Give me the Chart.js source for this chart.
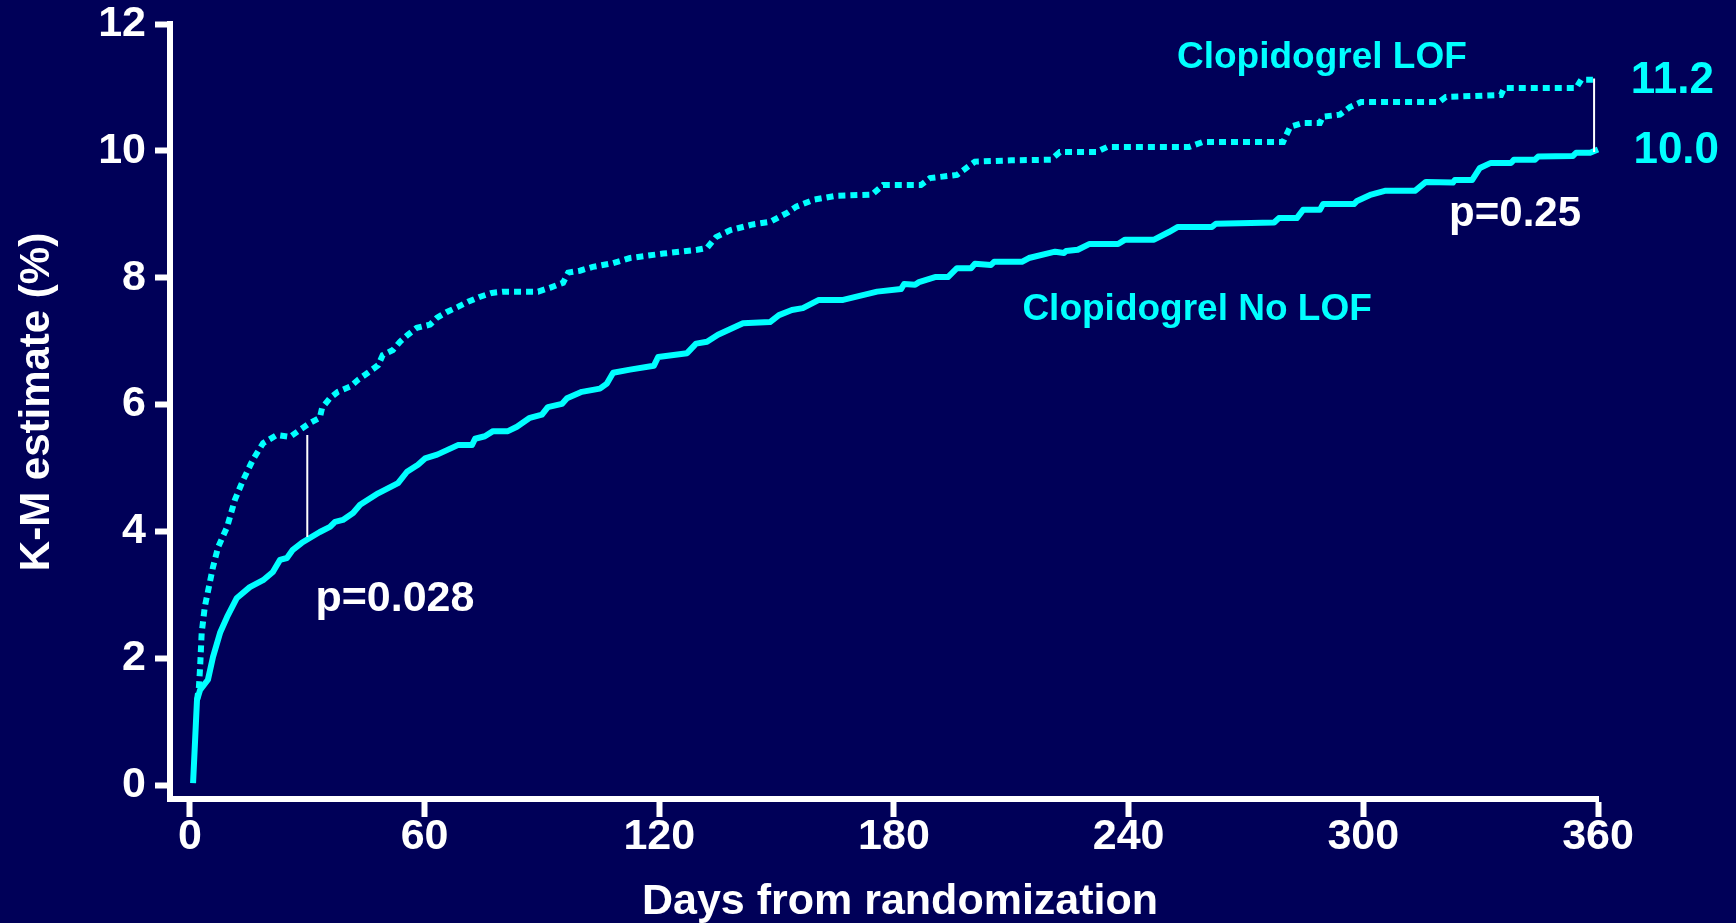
<!DOCTYPE html>
<html>
<head>
<meta charset="utf-8">
<script src="https://cdn.jsdelivr.net/npm/chart.js@4/dist/chart.umd.min.js"></script>
<style>
  html, body { margin: 0; padding: 0; background: #000058; }
  #wrap { width: 1736px; height: 923px; }
</style>
</head>
<body>
<div id="wrap"><canvas id="kmChart"></canvas></div>
<script>
// Clopidogrel No LOF (solid)
const noLofDays = [0.8, 1.8, 2.6, 4.6, 5.9, 7.7, 9.5, 12, 15.3, 18.7, 21.2, 23, 24.8, 26.3, 28.6, 30.2, 33.2, 35.8, 37.1, 39.1,
  41.7, 43.5, 48.1, 53.2, 55.5, 58.3, 60.1, 63.2, 68.5, 72.1, 72.9, 75.4, 77.5, 81.3, 83.6, 86.9, 90, 91.5, 95.1, 96.4,
  100.2, 104.8, 106.6, 108.2, 112.5, 118.6, 119.7, 127.1, 129.4, 132.2, 135, 141.4, 148.3, 150.6, 153.9, 156.7, 160.8, 167, 175.7, 181.8,
  182.6, 185.4, 186.4, 190.5, 193.8, 196.1, 199.7, 200.7, 204.8, 205.6, 212.7, 214.5, 221.2, 223.5, 224, 227, 229.9, 237.3, 239.1, 246.5,
  250.3, 252.6, 261.3, 262.3, 277.2, 278.4, 283, 284.6, 288.9, 289.7, 297.6, 298.4, 302, 305.5, 313.2, 316, 322.9, 323.4, 327.8, 329.8,
  332.6, 337.8, 338.5, 343.9, 344.7, 353.6, 354.4, 358, 360];
const noLofValues = [0.03, 1.34, 1.50, 1.66, 2.02, 2.40, 2.65, 2.95, 3.12, 3.23, 3.36, 3.55, 3.58, 3.71, 3.82, 3.88, 3.99, 4.07, 4.15, 4.18,
  4.29, 4.42, 4.60, 4.76, 4.94, 5.05, 5.15, 5.21, 5.36, 5.36, 5.46, 5.50, 5.58, 5.58, 5.65, 5.79, 5.84, 5.96, 6.01, 6.10,
  6.20, 6.25, 6.33, 6.50, 6.55, 6.61, 6.75, 6.81, 6.96, 6.99, 7.10, 7.28, 7.30, 7.41, 7.49, 7.52, 7.65, 7.65, 7.78, 7.82,
  7.90, 7.89, 7.93, 8.01, 8.01, 8.15, 8.15, 8.22, 8.20, 8.25, 8.25, 8.31, 8.41, 8.39, 8.42, 8.44, 8.53, 8.53, 8.60, 8.60,
  8.72, 8.80, 8.80, 8.85, 8.87, 8.94, 8.94, 9.07, 9.07, 9.16, 9.16, 9.21, 9.31, 9.37, 9.37, 9.51, 9.50, 9.54, 9.54, 9.73,
  9.81, 9.81, 9.86, 9.86, 9.91, 9.92, 9.97, 9.97, 10.02];

// Clopidogrel LOF (dotted)
const lofDays = [1.8, 2.3, 2.6, 3.0, 3.8, 5.9, 7.2, 9.5, 11.5, 13.6, 16.1, 18.7, 22.2, 25.6, 28.1, 30.7, 33.2, 33.8, 35.8, 37.8,
  40.9, 43, 45.5, 48.1, 49.3, 51.9, 53.7, 55.7, 58, 61.4, 63.2, 65.7, 68.5, 71.1, 74.2, 77.2, 80, 89, 92, 95.4,
  96.7, 99.7, 103, 108.2, 112.5, 121, 129.7, 132.2, 134.5, 138.2, 143.9, 148.3, 152.9, 155, 159.5, 165, 174.4, 177.2, 186.9, 189.2,
  196.1, 200.7, 210, 220.1, 222.4, 231.7, 234.5, 255.4, 259, 279.5, 281.3, 284.6, 288.9, 289.7, 294, 296.6, 299.4, 319.4, 321.1, 335.2,
  336, 354.4, 355.7, 358.7];
const lofValues = [1.34, 1.55, 1.86, 2.40, 2.81, 3.44, 3.75, 4.07, 4.50, 4.81, 5.13, 5.39, 5.52, 5.49, 5.60, 5.71, 5.79, 5.95, 6.10, 6.20,
  6.28, 6.39, 6.50, 6.62, 6.78, 6.86, 6.99, 7.10, 7.21, 7.26, 7.37, 7.46, 7.54, 7.62, 7.70, 7.76, 7.78, 7.78, 7.84, 7.92,
  8.08, 8.11, 8.17, 8.23, 8.31, 8.38, 8.44, 8.47, 8.64, 8.75, 8.84, 8.88, 9.03, 9.12, 9.23, 9.29, 9.31, 9.46, 9.46, 9.57,
  9.62, 9.83, 9.85, 9.86, 9.98, 9.98, 10.06, 10.06, 10.14, 10.14, 10.38, 10.44, 10.44, 10.54, 10.57, 10.69, 10.77, 10.77, 10.85, 10.88,
  10.99, 10.99, 11.12, 11.12];

// vertical difference markers
const gapDays = [30, 359];
const gapTop = [5.52, 11.14];
const gapBottom = [3.91, 9.98];

const xTicks = [0, 60, 120, 180, 240, 300, 360];
const yTicks = [0, 2, 4, 6, 8, 10, 12];

const xTitle = 'Days from randomization';
const yTitle = 'K-M estimate (%)';

const FONT = '"Liberation Sans", Arial, sans-serif';
const CYAN = '#00ffff';

const annotations = [
  { text: 'Clopidogrel LOF', day: 289.4, value: 11.47, size: 37, color: CYAN },
  { text: 'Clopidogrel No LOF', day: 257.5, value: 7.49, size: 37, color: CYAN },
  { text: '11.2', day: 379, value: 11.1, size: 44, color: CYAN },
  { text: '10.0', day: 380, value: 10.0, size: 44, color: CYAN },
  { text: 'p=0.25', day: 338.8, value: 8.99, size: 42, color: '#ffffff' },
  { text: 'p=0.028', day: 52.4, value: 2.93, size: 43, color: '#ffffff' }
];

const toPoints = (xs, ys) => xs.map((d, i) => ({ x: d, y: ys[i] }));

const gapSets = gapDays.map((d, i) => ({
  data: [{ x: d, y: gapTop[i] }, { x: d, y: gapBottom[i] }],
  borderColor: '#ffffff',
  borderWidth: 2,
  pointRadius: 0,
  order: 0
}));

// free text on the plot + axis titles
const labelPlugin = {
  id: 'textLabels',
  afterDatasetsDraw(chart) {
    const { ctx, scales: { x, y } } = chart;
    ctx.save();
    ctx.textAlign = 'center';
    ctx.textBaseline = 'middle';
    annotations.forEach(a => {
      ctx.font = 'bold ' + a.size + 'px ' + FONT;
      ctx.fillStyle = a.color;
      ctx.fillText(a.text, x.getPixelForValue(a.day), y.getPixelForValue(a.value));
    });

    ctx.fillStyle = '#ffffff';
    ctx.font = 'bold 43px ' + FONT;
    ctx.fillText(xTitle, 900, 902);

    ctx.font = 'bold 42px ' + FONT;
    ctx.translate(37, 402);
    ctx.rotate(-Math.PI / 2);
    ctx.fillText(yTitle, 0, 0);
    ctx.restore();
  }
};

const data = {
  datasets: [
    {
      label: 'Clopidogrel No LOF',
      data: toPoints(noLofDays, noLofValues),
      borderColor: CYAN,
      borderWidth: 6,
      pointRadius: 0,
      borderJoinStyle: 'round',
      order: 2
    },
    {
      label: 'Clopidogrel LOF',
      data: toPoints(lofDays, lofValues),
      borderColor: CYAN,
      borderWidth: 6,
      borderDash: [7, 5],
      borderCapStyle: 'butt',
      pointRadius: 0,
      order: 1
    },
    ...gapSets
  ]
};

const config = {
  type: 'line',
  data: data,
  options: {
    responsive: true,
    maintainAspectRatio: false,
    animation: false,
    clip: false,
    layout: { padding: { top: 24, right: 138, left: 0, bottom: 0 } },
    plugins: { legend: { display: false }, tooltip: { enabled: false } },
    scales: {
      x: {
        type: 'linear',
        min: -5.1,
        max: 360,
        afterBuildTicks: s => { s.ticks = xTicks.map(v => ({ value: v })); },
        afterFit: s => { s.height = 124; s.paddingLeft = 0; s.paddingRight = 0; },
        border: { display: true, color: '#ffffff', width: 6 },
        grid: { display: true, drawOnChartArea: false, drawTicks: true, tickLength: 18, tickWidth: 6, tickColor: '#ffffff' },
        ticks: { color: '#ffffff', font: { family: FONT, size: 43, weight: 'bold' }, padding: -6, maxRotation: 0 }
      },
      y: {
        type: 'linear',
        min: -0.22,
        max: 12,
        afterBuildTicks: s => { s.ticks = yTicks.map(v => ({ value: v })); },
        afterFit: s => { s.width = 170; s.paddingTop = 0; s.paddingBottom = 0; },
        border: { display: true, color: '#ffffff', width: 6 },
        grid: { display: true, drawOnChartArea: false, drawTicks: true, tickLength: 15, tickWidth: 6, tickColor: '#ffffff' },
        ticks: { color: '#ffffff', font: { family: FONT, size: 43, weight: 'bold' }, padding: 9 }
      }
    }
  },
  plugins: [labelPlugin]
};

const kmChart = new Chart(document.getElementById('kmChart'), config);
</script>
</body>
</html>
